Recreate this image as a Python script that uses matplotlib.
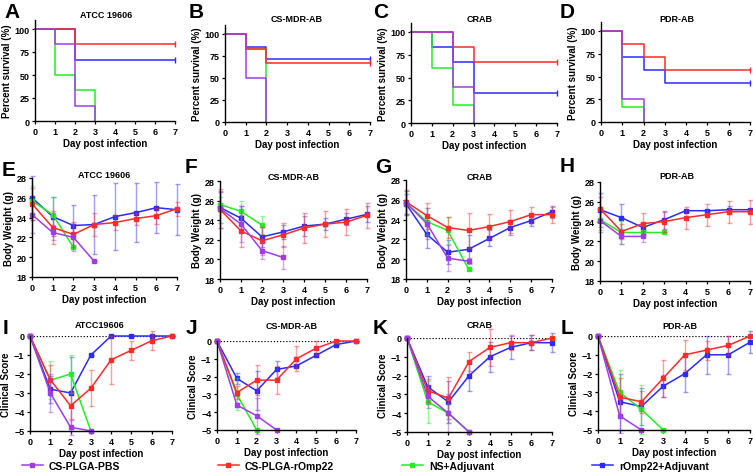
import matplotlib
matplotlib.use("Agg")
import matplotlib.pyplot as plt
from matplotlib.lines import Line2D

plt.rcParams['font.family'] = ['Liberation Sans', 'DejaVu Sans']
plt.rcParams['font.weight'] = 'bold'

W, H = 753, 477
groups = ["CS-PLGA-PBS", "CS-PLGA-rOmp22", "NS+Adjuvant", "rOmp22+Adjuvant"]
colors = {"CS-PLGA-PBS": "#A03CE6", "CS-PLGA-rOmp22": "#FF2A2A",
          "NS+Adjuvant": "#22EE22", "rOmp22+Adjuvant": "#2B2BFF"}
draw_order = ["rOmp22+Adjuvant", "NS+Adjuvant", "CS-PLGA-rOmp22", "CS-PLGA-PBS"]
strains = ["ATCC 19606", "CS-MDR-AB", "CRAB", "PDR-AB"]
strains_score = ["ATCC19606", "CS-MDR-AB", "CRAB", "PDR-AB"]

# ---------------- Survival (step times, values) ----------------
surv_A = {"CS-PLGA-PBS": ([0, 1, 2, 3], [100, 83.3, 16.7, 0]),
          "CS-PLGA-rOmp22": ([0, 2, 7], [100, 83.3, 83.3]),
          "NS+Adjuvant": ([0, 1, 2, 3], [100, 50, 33.3, 0]),
          "rOmp22+Adjuvant": ([0, 2, 7], [100, 66.7, 66.7])}
surv_B = {"CS-PLGA-PBS": ([0, 1, 2], [100, 50, 0]),
          "CS-PLGA-rOmp22": ([0, 1, 2, 7], [100, 83.3, 66.7, 66.7]),
          "NS+Adjuvant": ([0, 1, 2], [100, 83.3, 0]),
          "rOmp22+Adjuvant": ([0, 1, 2, 7], [100, 85.7, 71.4, 71.4])}
surv_C = {"CS-PLGA-PBS": ([0, 2, 3], [100, 40, 0]),
          "CS-PLGA-rOmp22": ([0, 2, 3, 7], [100, 83.3, 66.7, 66.7]),
          "NS+Adjuvant": ([0, 1, 2, 3], [100, 60, 20, 0]),
          "rOmp22+Adjuvant": ([0, 1, 2, 3, 7], [100, 83.3, 66.7, 33.3, 33.3])}
surv_D = {"CS-PLGA-PBS": ([0, 1, 2], [100, 25, 0]),
          "CS-PLGA-rOmp22": ([0, 1, 2, 3, 7], [100, 85.7, 71.4, 57.1, 57.1]),
          "NS+Adjuvant": ([0, 1, 2], [100, 16.7, 0]),
          "rOmp22+Adjuvant": ([0, 1, 2, 3, 7], [100, 71.4, 57.1, 42.9, 42.9])}
survival = [surv_A, surv_B, surv_C, surv_D]

# ---------------- Body weight (mean, sd) ----------------
bw_E = {"CS-PLGA-PBS": ([24.3, 22.5, 22.0, 19.6], [1.9, 0.8, 1.4, 0.0]),
        "CS-PLGA-rOmp22": ([25.4, 23.0, 22.3, 23.3, 23.5, 23.9, 24.2, 24.9],
                           [1.6, 1.7, 1.3, 1.2, 0.8, 0.6, 0.8, 0.7]),
        "NS+Adjuvant": ([25.7, 24.3, 21.0], [1.5, 1.8, 0.2]),
        "rOmp22+Adjuvant": ([26.0, 24.1, 23.2, 23.3, 24.1, 24.5, 25.0, 24.8],
                            [2.2, 2.0, 2.1, 3.0, 3.4, 3.0, 2.6, 2.6])}
bw_F = {"CS-PLGA-PBS": ([25.2, 23.6, 20.9, 20.2], [2.0, 1.8, 0.9, 1.2]),
        "CS-PLGA-rOmp22": ([25.1, 22.9, 21.9, 22.5, 23.2, 23.6, 23.8, 24.5],
                           [1.9, 1.6, 1.4, 1.2, 1.5, 1.3, 1.3, 1.3]),
        "NS+Adjuvant": ([25.6, 24.9, 23.5], [0.8, 1.1, 0.9]),
        "rOmp22+Adjuvant": ([25.3, 24.2, 22.3, 22.8, 23.4, 23.6, 24.1, 24.6],
                            [1.6, 1.3, 1.0, 0.7, 1.0, 0.6, 0.6, 0.8])}
bw_G = {"CS-PLGA-PBS": ([25.7, 23.6, 20.1, 19.8], [1.2, 1.6, 1.3, 0.3]),
        "CS-PLGA-rOmp22": ([25.8, 24.4, 23.2, 22.9, 23.3, 23.8, 24.5, 24.5],
                           [1.2, 1.3, 1.1, 1.8, 1.3, 1.2, 0.8, 0.8]),
        "NS+Adjuvant": ([25.7, 23.8, 22.9, 19.0], [1.2, 1.4, 1.4, 0.0]),
        "rOmp22+Adjuvant": ([25.6, 22.5, 20.7, 21.0, 22.1, 23.2, 23.9, 24.8],
                            [1.0, 1.4, 1.2, 1.4, 0.8, 0.8, 0.5, 0.6])}
bw_H = {"CS-PLGA-PBS": ([24.1, 22.5, 22.5], [1.1, 0.8, 0.6]),
        "CS-PLGA-rOmp22": ([25.3, 23.0, 23.8, 24.0, 24.4, 24.7, 25.0, 25.0],
                           [1.2, 0.8, 1.1, 1.0, 1.1, 1.1, 1.1, 1.2]),
        "NS+Adjuvant": ([24.2, 22.9, 22.9, 22.9], [1.0, 1.2, 0.3, 0.0]),
        "rOmp22+Adjuvant": ([25.2, 24.4, 23.4, 24.2, 25.1, 25.1, 25.2, 25.2],
                            [1.7, 1.4, 0.5, 0.9, 0.1, 0.1, 0.4, 0.1])}
weights = [bw_E, bw_F, bw_G, bw_H]

# ---------------- Clinical score (mean, sd) ----------------
cs_I = {"CS-PLGA-PBS": ([0, -3.0, -4.8, -5.0], [0, 1.0, 0.4, 0]),
        "CS-PLGA-rOmp22": ([0, -2.3, -3.67, -2.75, -1.25, -0.75, -0.25, 0],
                           [0, 0.8, 0.7, 0.95, 1.25, 0.5, 0.5, 0]),
        "NS+Adjuvant": ([0, -2.33, -2.0, -5.0], [0, 1.0, 1.0, 0]),
        "rOmp22+Adjuvant": ([0, -2.8, -3.0, -1.0, 0, 0, 0, 0],
                            [0, 0.7, 1.9, 0, 0, 0, 0, 0])}
cs_J = {"CS-PLGA-PBS": ([0, -3.6, -4.2, -5.0], [0, 0.1, 1.0, 0]),
        "CS-PLGA-rOmp22": ([0, -2.9, -2.2, -2.2, -1.0, -0.4, 0, 0],
                           [0, 0.35, 0.85, 0.8, 0.7, 0.4, 0, 0]),
        "NS+Adjuvant": ([0, -3.0, -5.0], [0, 0.9, 0]),
        "rOmp22+Adjuvant": ([0, -2.1, -2.8, -1.6, -1.4, -0.8, -0.2, 0],
                            [0, 0.3, 1.1, 0.5, 0, 0.1, 0, 0])}
cs_K = {"CS-PLGA-PBS": ([0, -3.1, -4.0, -5.0], [0, 0.6, 1.0, 0]),
        "CS-PLGA-rOmp22": ([0, -2.8, -3.2, -1.25, -0.5, -0.25, -0.25, 0],
                           [0, 0.6, 1.1, 0.5, 1.0, 0.4, 0.4, 0]),
        "NS+Adjuvant": ([0, -3.4, -4.0, -5.0], [0, 1.1, 0.5, 0]),
        "rOmp22+Adjuvant": ([0, -2.6, -3.4, -2.0, -1.0, -0.5, -0.25, -0.25],
                            [0, 0.6, 1.1, 0.8, 0.8, 0.6, 0.4, 0.5])}
cs_L = {"CS-PLGA-PBS": ([0, -4.25, -5.0], [0, 0.9, 0]),
        "CS-PLGA-rOmp22": ([0, -3.25, -3.5, -2.25, -1.0, -0.75, -0.5, 0],
                           [0, 1.0, 0.6, 1.0, 0.8, 0.5, 0.5, 0]),
        "NS+Adjuvant": ([0, -3.0, -3.9, -5.0], [0, 1.2, 1.3, 0]),
        "rOmp22+Adjuvant": ([0, -3.5, -3.75, -2.67, -2.0, -1.0, -1.0, -0.33],
                            [0, 1.5, 1.0, 0.6, 1.0, 1.0, 1.0, 0.6])}
scores = [cs_I, cs_J, cs_K, cs_L]

days = [0, 1, 2, 3, 4, 5, 6, 7]

fig = plt.figure(figsize=(W / 100, H / 100), dpi=100)


def add_ax(left, right, top, bottom):
    return fig.add_axes([left / W, 1 - bottom / H, (right - left) / W, (bottom - top) / H])


def ftext(x, y, s, **kw):
    fig.text(x / W, 1 - y / H, s, **kw)


def style(ax, ylabel, xticks=range(8)):
    for sp in ("top", "right"):
        ax.spines[sp].set_visible(False)
    for sp in ("left", "bottom"):
        ax.spines[sp].set_linewidth(1.0)
    ax.set_xlim(0, 7)
    ax.set_xticks(list(xticks))
    ax.tick_params(labelsize=6.5, length=2.5, width=0.9, pad=1.5)
    for lab in ax.get_xticklabels() + ax.get_yticklabels():
        lab.set_fontweight('bold')
    ax.set_xlabel("Day post infection", fontsize=7, fontweight='bold', labelpad=2)
    ax.set_ylabel(ylabel, fontsize=7, fontweight='bold', labelpad=2)


row1 = [(35, 175, 20.8, 122), (225, 370, 26.2, 123), (411, 557, 23.9, 124), (601, 750, 22.9, 123)]
row2 = [(32, 177, 179, 278), (220, 367, 182, 280), (406, 552, 181, 280), (600, 750, 183, 282)]
row3 = [(30, 172, 337, 432), (217, 356, 342, 431), (407, 552, 339, 433), (598, 750, 337, 431)]

letters1 = [("A", 12, 13), ("B", 196, 13), ("C", 381, 13), ("D", 567, 13)]
letters2 = [("E", 9, 170), ("F", 191, 168), ("G", 383, 168), ("H", 567, 167)]
letters3 = [("I", 6, 329), ("J", 191, 329), ("K", 380, 329), ("L", 567, 329)]

title1 = [(106, 16), (297, 19), (480, 19), (677, 19)]
title2 = [(104, 175), (294, 178), (480, 178), (677, 177)]
title3 = [(100, 325), (292, 327), (480, 325), (680, 327)]

lw = 1.1
# Row 1: survival
for i in range(4):
    ax = add_ax(*row1[i])
    for g in draw_order:
        t, v = survival[i][g]
        ax.step(t, v, where='post', color=colors[g], lw=lw, clip_on=False)
        if t[-1] == 7 and v[-1] > 0:
            ax.plot([7], [v[-1]], marker='|', ms=4, color=colors[g], mew=1.0, clip_on=False)
    ax.set_ylim(0, 110)
    ax.set_yticks([0, 25, 50, 75, 100])
    style(ax, "Percent survival (%)")
    ftext(letters1[i][1], letters1[i][2], letters1[i][0], fontsize=15, fontweight='bold', ha='center', va='center')
    ftext(title1[i][0], title1[i][1], strains[i], fontsize=6.5, fontweight='bold', ha='center', va='center')

# Row 2: body weight
for i in range(4):
    ax = add_ax(*row2[i])
    for g in draw_order:
        m, s = weights[i][g]
        x = days[:len(m)]
        ax.errorbar(x, m, yerr=s, fmt='none', ecolor=colors[g], alpha=0.45, elinewidth=1.0,
                    capsize=1.8, capthick=1.0, clip_on=False)
        ax.plot(x, m, color=colors[g], lw=lw, marker='s', ms=2.5, clip_on=False)
    ax.set_ylim(18, 28)
    ax.set_yticks([18, 20, 22, 24, 26, 28])
    style(ax, "Body Weight (g)")
    ftext(letters2[i][1], letters2[i][2], letters2[i][0], fontsize=15, fontweight='bold', ha='center', va='center')
    ftext(title2[i][0], title2[i][1], strains[i], fontsize=6.5, fontweight='bold', ha='center', va='center')

# Row 3: clinical score
for i in range(4):
    ax = add_ax(*row3[i])
    ax.axhline(0, color='black', lw=0.9, ls=(0, (1, 1.5)), zorder=0)
    for g in draw_order:
        m, s = scores[i][g]
        x = days[:len(m)]
        ax.errorbar(x, m, yerr=s, fmt='none', ecolor=colors[g], alpha=0.45, elinewidth=1.0,
                    capsize=1.8, capthick=1.0, clip_on=False)
        ax.plot(x, m, color=colors[g], lw=lw, marker='s', ms=2.5, clip_on=False)
    ax.set_ylim(-5, 0)
    ax.set_yticks([-5, -4, -3, -2, -1, 0])
    style(ax, "Clinical Score")
    ftext(letters3[i][1], letters3[i][2], letters3[i][0], fontsize=15, fontweight='bold', ha='center', va='center')
    ftext(title3[i][0], title3[i][1], strains_score[i], fontsize=6.5, fontweight='bold', ha='center', va='center')

# Legend
leg_pos = [(22, 467), (218, 467), (402, 467), (592, 467)]
for g, (lx, ly) in zip(groups, leg_pos):
    h = Line2D([0], [0], color=colors[g], lw=lw, marker='s', ms=3)
    fig.legend([h], [g], loc='center left', bbox_to_anchor=(lx / W, 1 - ly / H), frameon=False,
               prop={'size': 7.5, 'weight': 'bold'}, handlelength=2.0, handletextpad=0.6,
               borderaxespad=0, borderpad=0)

fig.savefig("out.png", dpi=100)
